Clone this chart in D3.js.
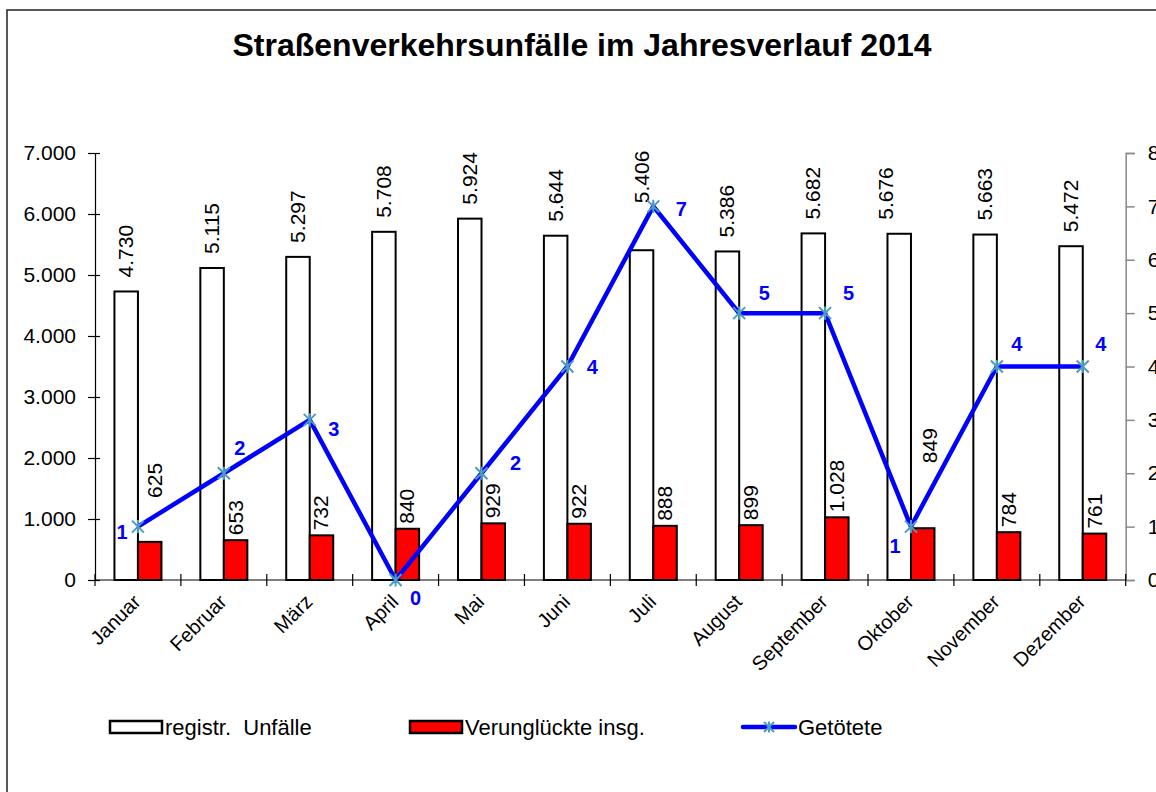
<!DOCTYPE html>
<html>
<head>
<meta charset="utf-8">
<script src="https://cdn.jsdelivr.net/npm/d3@7"></script>
<style>
  html, body { margin: 0; padding: 0; background: #fff; }
  svg { display: block; font-family: "Liberation Sans", Arial, sans-serif; }
</style>
</head>
<body>
<svg id="chart" width="1156" height="792"></svg>
<script>
// ---- Data ----
const months = ["Januar", "Februar", "März", "April", "Mai", "Juni", "Juli", "August", "September", "Oktober", "November", "Dezember"];
const unfaelle = [4730, 5115, 5297, 5708, 5924, 5644, 5406, 5386, 5682, 5676, 5663, 5472];
const verunglueckte = [625, 653, 732, 840, 929, 922, 888, 899, 1028, 849, 784, 761];
const getoetete = [1, 2, 3, 0, 2, 4, 7, 5, 5, 1, 4, 4];
const leftTicks = [0, 1000, 2000, 3000, 4000, 5000, 6000, 7000];
const rightTicks = [0, 1, 2, 3, 4, 5, 6, 7, 8];
const seriesNames = ["registr.  Unfälle", "Verunglückte insg.", "Getötete"];
const title = "Straßenverkehrsunfälle im Jahresverlauf 2014";

// ---- Layout (not data) ----
const L = 95, R = 1125.7, T = 153, B = 580;
const lineLabelOffsets = [[-16, 5], [16, -25], [24, 9], [20, 18], [34, -10], [25, 0], [28, 3], [25, -20], [23.5, -20], [-16, 19], [20, -23], [18, -23]];
const barLabelNudge = { "Januar": { red: [5, -39] }, "Juli": { white: [0, -33] }, "Oktober": { white: [-13, 0], red: [7, -60] } };

const de = d3.formatLocale({ decimal: ",", thousands: ".", grouping: [3], currency: ["", " €"] });
const fmt = de.format(",");

const svg = d3.select("#chart");

// outer frame
svg.append("rect").attr("x", 7).attr("y", 10).attr("width", 1160).attr("height", 800)
  .attr("fill", "#fff").attr("stroke", "#222").attr("stroke-width", 1.5);

// title
svg.append("text").attr("x", 582).attr("y", 56).attr("text-anchor", "middle")
  .attr("font-size", 32).attr("font-weight", "bold").attr("fill", "#000").text(title);

const x = d3.scaleBand().domain(months).range([L, R]).padding(0);
const bw = x.bandwidth();
const barW = 23.5;
const xs = d3.scaleBand().domain(["white", "red"]).range([bw / 2 - barW, bw / 2 + barW]).padding(0);
const y = d3.scaleLinear().domain([0, 7000]).range([B, T]);
const y2 = d3.scaleLinear().domain([0, 8]).range([B, T]);

// Left axis
const gL = svg.append("g").attr("transform", `translate(${L},0)`)
  .call(d3.axisLeft(y).tickValues(leftTicks).tickSize(7).tickPadding(12).tickFormat(fmt));
gL.select(".domain").attr("stroke", "#000").attr("stroke-width", 1.2);
gL.selectAll(".tick line").attr("x1", 5).attr("x2", -7).attr("stroke", "#000").attr("stroke-width", 1.2);
gL.selectAll(".tick text").attr("font-size", 21).attr("fill", "#000")
  .attr("font-family", "Liberation Sans, Arial, sans-serif");

// Right axis
const gR = svg.append("g").attr("transform", `translate(${R},0)`)
  .call(d3.axisRight(y2).tickValues(rightTicks).tickSize(9).tickPadding(13).tickFormat(d3.format("d")));
gR.select(".domain").attr("stroke", "#888").attr("stroke-width", 1.5);
gR.selectAll(".tick line").attr("stroke", "#888").attr("stroke-width", 1.5);
gR.selectAll(".tick text").attr("font-size", 21).attr("fill", "#000")
  .attr("font-family", "Liberation Sans, Arial, sans-serif");

// X axis
const gX = svg.append("g");
gX.append("line").attr("x1", L).attr("x2", R).attr("y1", B).attr("y2", B).attr("stroke", "#000").attr("stroke-width", 1.2);
const boundaries = months.map(m => x(m)).concat([R]);
gX.selectAll("line.tk").data(boundaries).join("line").attr("class", "tk")
  .attr("x1", d => d).attr("x2", d => d).attr("y1", B - 6).attr("y2", B + 6)
  .attr("stroke", "#000").attr("stroke-width", 1.2);
gX.selectAll("text").data(months).join("text")
  .attr("transform", d => `translate(${x(d) + bw / 2 + 4},${B + 23}) rotate(-45)`)
  .attr("text-anchor", "end").attr("font-size", 20).attr("fill", "#000").text(d => d);

// Bars
const data = months.map((m, i) => ({ m, white: unfaelle[i], red: verunglueckte[i] }));
const gB = svg.append("g");
gB.selectAll("rect.w").data(data).join("rect").attr("class", "w")
  .attr("x", d => x(d.m) + xs("white")).attr("width", xs.bandwidth())
  .attr("y", d => y(d.white)).attr("height", d => B - y(d.white))
  .attr("fill", "#fff").attr("stroke", "#000").attr("stroke-width", 2);
gB.selectAll("rect.r").data(data).join("rect").attr("class", "r")
  .attr("x", d => x(d.m) + xs("red")).attr("width", xs.bandwidth())
  .attr("y", d => y(d.red)).attr("height", d => B - y(d.red))
  .attr("fill", "#ff0000").attr("stroke", "#000").attr("stroke-width", 2);

// Bar labels (rotated)
function nudge(m, k) { return (barLabelNudge[m] && barLabelNudge[m][k]) || [0, 0]; }
gB.selectAll("text.wl").data(data).join("text").attr("class", "wl")
  .attr("transform", d => {
    const n = nudge(d.m, "white");
    return `translate(${x(d.m) + xs("white") + xs.bandwidth() / 2 + 7 + n[0]},${y(d.white) - 14 + n[1]}) rotate(-90)`;
  })
  .attr("text-anchor", "start").attr("font-size", 21).attr("fill", "#000").text(d => fmt(d.white));
gB.selectAll("text.rl").data(data).join("text").attr("class", "rl")
  .attr("transform", d => {
    const n = nudge(d.m, "red");
    return `translate(${x(d.m) + xs("red") + xs.bandwidth() / 2 + 7 + n[0]},${y(d.red) - 5 + n[1]}) rotate(-90)`;
  })
  .attr("text-anchor", "start").attr("font-size", 21).attr("fill", "#000").text(d => fmt(d.red));

// Line
const pts = months.map((m, i) => [x(m) + bw / 2, y2(getoetete[i])]);
svg.append("path").datum(pts).attr("d", d3.line()).attr("fill", "none")
  .attr("stroke", "#0000ff").attr("stroke-width", 4.5).attr("stroke-linejoin", "miter");

function star(g, cx, cy, s) {
  const p = `M${cx - s},${cy - s}L${cx + s},${cy + s}M${cx - s},${cy + s}L${cx + s},${cy - s}M${cx},${cy - s * 1.1}L${cx},${cy + s * 1.1}`;
  g.append("path").attr("d", p).attr("stroke", "#4a9cc0").attr("stroke-width", 2).attr("fill", "none");
}
const gM = svg.append("g");
pts.forEach(p => star(gM, p[0], p[1], 6));

svg.append("g").selectAll("text").data(getoetete).join("text")
  .attr("x", (d, i) => pts[i][0] + lineLabelOffsets[i][0])
  .attr("y", (d, i) => pts[i][1] + lineLabelOffsets[i][1])
  .attr("dy", "0.35em").attr("text-anchor", "middle")
  .attr("font-size", 20).attr("font-weight", "bold").attr("fill", "#0000ff").text(d => d);

// Legend
const lg = svg.append("g");
const ly = 727;
lg.append("rect").attr("x", 110).attr("y", ly - 6).attr("width", 52).attr("height", 12)
  .attr("fill", "#fff").attr("stroke", "#000").attr("stroke-width", 2.5);
lg.append("text").attr("x", 165).attr("y", ly + 8).attr("font-size", 22).style("white-space", "pre").text(seriesNames[0]);
lg.append("rect").attr("x", 410).attr("y", ly - 6).attr("width", 52).attr("height", 12)
  .attr("fill", "#ff0000").attr("stroke", "#000").attr("stroke-width", 2.5);
lg.append("text").attr("x", 465).attr("y", ly + 8).attr("font-size", 22).text(seriesNames[1]);
lg.append("line").attr("x1", 743).attr("x2", 795).attr("y1", ly).attr("y2", ly)
  .attr("stroke", "#0000ff").attr("stroke-width", 4.5).attr("stroke-linecap", "round");
star(lg, 769, ly, 5);
lg.append("text").attr("x", 798).attr("y", ly + 8).attr("font-size", 22).text(seriesNames[2]);
</script>
</body>
</html>
